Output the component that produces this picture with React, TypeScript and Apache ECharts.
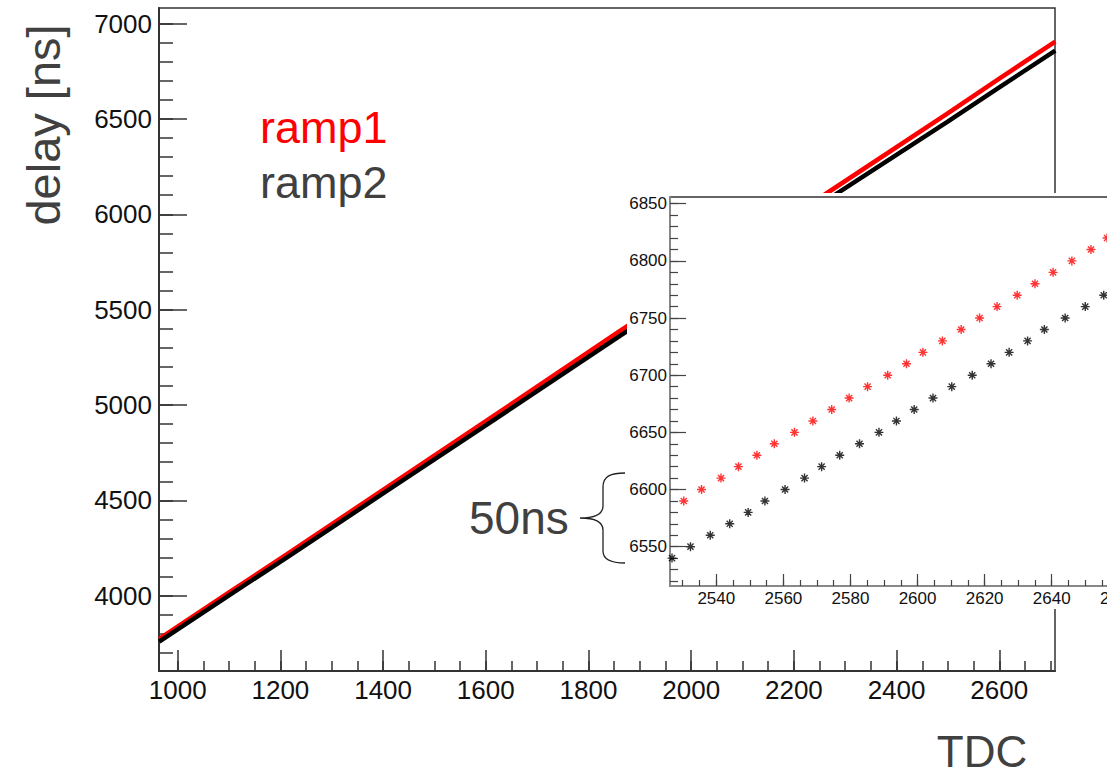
import React, { useEffect, useRef } from "react";
import * as echarts from "echarts";

// ---------- data ----------
const mainTdc = [964, 1100, 1213, 1400, 1600, 1862, 2000, 2258, 2498, 2600, 2709];
const ramp1Main = [3773, 4017, 4218, 4555, 4915, 5390, 5633, 6100, 6527, 6712, 6906];
const ramp2Main = [3759, 4002, 4201, 4536, 4893, 5364, 5604, 6064, 6483, 6666, 6858];

const ramp1InsetTdc = [2530.3, 2535.6, 2541.4, 2546.6, 2552.1, 2557.3, 2563.3, 2568.8, 2574.4, 2579.6, 2585.1, 2591.1, 2596.7, 2601.6, 2607.4, 2613.0, 2618.5, 2623.7, 2629.7, 2635.0, 2640.4, 2646.0, 2651.7, 2656.5];
const ramp1InsetDelay = [6590, 6600, 6610, 6620, 6630, 6640, 6650, 6660, 6670, 6680, 6690, 6700, 6710, 6720, 6730, 6740, 6750, 6760, 6770, 6780, 6790, 6800, 6810, 6820];
const ramp2InsetTdc = [2526.8, 2532.3, 2538.2, 2544.0, 2549.5, 2554.5, 2560.5, 2566.3, 2571.4, 2576.8, 2582.7, 2588.5, 2593.7, 2599.0, 2604.6, 2610.2, 2616.3, 2621.9, 2627.3, 2632.8, 2637.8, 2644.0, 2650.0, 2655.5];
const ramp2InsetDelay = [6540, 6550, 6560, 6570, 6580, 6590, 6600, 6610, 6620, 6630, 6640, 6650, 6660, 6670, 6680, 6690, 6700, 6710, 6720, 6730, 6740, 6750, 6760, 6770];

// ---------- ticks ----------
const mainXMajor = [1000, 1200, 1400, 1600, 1800, 2000, 2200, 2400, 2600];
const mainXMinor = [1000, 1050, 1100, 1150, 1200, 1250, 1300, 1350, 1400, 1450, 1500, 1550, 1600, 1650, 1700, 1750, 1800, 1850, 1900, 1950, 2000, 2050, 2100, 2150, 2200, 2250, 2300, 2350, 2400, 2450, 2500, 2550, 2600, 2650, 2700];
const mainYMajor = [4000, 4500, 5000, 5500, 6000, 6500, 7000];
const mainYMinor = [3700, 3800, 3900, 4000, 4100, 4200, 4300, 4400, 4500, 4600, 4700, 4800, 4900, 5000, 5100, 5200, 5300, 5400, 5500, 5600, 5700, 5800, 5900, 6000, 6100, 6200, 6300, 6400, 6500, 6600, 6700, 6800, 6900, 7000];
const insetXMajor = [2540, 2560, 2580, 2600, 2620, 2640, 2660, 2680];
const insetXLabels = [2540, 2560, 2580, 2600, 2620, 2640, 2660];
const insetXMinor = [2530, 2535, 2540, 2545, 2550, 2555, 2560, 2565, 2570, 2575, 2580, 2585, 2590, 2595, 2600, 2605, 2610, 2615, 2620, 2625, 2630, 2635, 2640, 2645, 2650, 2655, 2660, 2665, 2670, 2675, 2680];
const insetYMajor = [6550, 6600, 6650, 6700, 6750, 6800, 6850];
const insetYMinor = [6520, 6530, 6540, 6550, 6560, 6570, 6580, 6590, 6600, 6610, 6620, 6630, 6640, 6650, 6660, 6670, 6680, 6690, 6700, 6710, 6720, 6730, 6740, 6750, 6760, 6770, 6780, 6790, 6800, 6810, 6820, 6830, 6840, 6850];

const FONT = "'Liberation Sans', Arial, Helvetica, sans-serif";
const GREY_TEXT = "#404040";
const RED = "#ff0000";

echarts.graphic.registerShape(
  "brace",
  echarts.graphic.extendPath(
    "M625,473 C611,473 603,476 603,487 L603,506 C603,514 596,518 580,518 C596,518 603,522 603,530 L603,551 C603,560 611,563 625,563",
    {}
  )
);

const STAR = "path://M0,5L10,5M5,0L5,10M1.6,1.6L8.4,8.4M8.4,1.6L1.6,8.4";

function makeAxis(o: any) {
  const major = o.major;
  return {
    type: "value",
    gridIndex: o.grid,
    position: o.position,
    min: o.min,
    max: o.max,
    z: o.z,
    axisLine: major
      ? { show: true, onZero: false, lineStyle: { color: o.lineColor, width: o.lineWidth } }
      : { show: false, onZero: false },
    splitLine: { show: false },
    axisTick: {
      show: true,
      inside: true,
      length: o.tickLen,
      customValues: o.ticks,
      lineStyle: { color: o.tickColor, width: o.tickWidth },
    },
    axisLabel: major
      ? {
          show: true,
          customValues: o.labels,
          formatter: (v: number) => String(v),
          fontSize: o.fontSize,
          fontFamily: FONT,
          color: "#111",
          margin: o.margin,
          hideOverlap: false,
        }
      : { show: false },
  };
}

export default function App() {
  const ref = useRef<HTMLDivElement>(null);
  useEffect(() => {
    if (!ref.current) return;
    const chart = echarts.init(ref.current, undefined, { renderer: "svg" });
    const mainX = { min: 963.6, max: 2708.5 };
    const mainY = { min: 3605, max: 7082 };
    const insX = { min: 2526.2, max: 2684.2 };
    const insY = { min: 6515.6, max: 6855.9 };
    const option: any = {
      animation: false,
      backgroundColor: "#ffffff",
      textStyle: { fontFamily: FONT },
      grid: [
        { left: 159, top: 8, width: 896, height: 663, show: true, borderColor: "#333", borderWidth: 1.5, backgroundColor: "rgba(0,0,0,0)", z: 0, containLabel: false, outerBoundsMode: "none" },
        { left: 670, top: 197, width: 530, height: 389, show: true, borderColor: "#333", borderWidth: 1.5, backgroundColor: "#fff", z: 6, containLabel: false, outerBoundsMode: "none" },
      ],
      xAxis: [
        makeAxis({ major: true, grid: 0, position: "bottom", ...mainX, z: 1, lineColor: "#333", lineWidth: 2, tickLen: 21, ticks: mainXMajor, labels: mainXMajor, tickColor: "#333", tickWidth: 1.5, fontSize: 26, margin: 6 }),
        makeAxis({ major: false, grid: 0, position: "bottom", ...mainX, z: 1, tickLen: 10, ticks: mainXMinor, tickColor: "#333", tickWidth: 1.5 }),
        makeAxis({ major: true, grid: 1, position: "bottom", ...insX, z: 7, lineColor: "#888", lineWidth: 2, tickLen: 12, ticks: insetXMajor, labels: insetXLabels, tickColor: "#444", tickWidth: 1.2, fontSize: 17, margin: 4 }),
        makeAxis({ major: false, grid: 1, position: "bottom", ...insX, z: 7, tickLen: 6, ticks: insetXMinor, tickColor: "#444", tickWidth: 1.2 }),
      ],
      yAxis: [
        makeAxis({ major: true, grid: 0, position: "left", ...mainY, z: 1, lineColor: "#333", lineWidth: 2, tickLen: 28, ticks: mainYMajor, labels: mainYMajor, tickColor: "#333", tickWidth: 1.5, fontSize: 26, margin: 7 }),
        makeAxis({ major: false, grid: 0, position: "left", ...mainY, z: 1, tickLen: 14, ticks: mainYMinor, tickColor: "#333", tickWidth: 1.5 }),
        makeAxis({ major: true, grid: 1, position: "left", ...insY, z: 7, lineColor: "#888", lineWidth: 2, tickLen: 16, ticks: insetYMajor, labels: insetYMajor, tickColor: "#444", tickWidth: 1.2, fontSize: 17, margin: 3 }),
        makeAxis({ major: false, grid: 1, position: "left", ...insY, z: 7, tickLen: 8, ticks: insetYMinor, tickColor: "#444", tickWidth: 1.2 }),
      ],
      series: [
        {
          name: "ramp1",
          type: "line",
          xAxisIndex: 0,
          yAxisIndex: 0,
          data: mainTdc.map((x, i) => [x, ramp1Main[i]]),
          showSymbol: false,
          symbol: "none",
          lineStyle: { color: RED, width: 4.5 },
          z: 2,
          clip: true,
        },
        {
          name: "ramp2",
          type: "line",
          xAxisIndex: 0,
          yAxisIndex: 0,
          data: mainTdc.map((x, i) => [x, ramp2Main[i]]),
          showSymbol: false,
          symbol: "none",
          lineStyle: { color: "#000", width: 4.5 },
          z: 2,
          clip: true,
        },
        {
          name: "ramp1 zoom",
          type: "scatter",
          xAxisIndex: 2,
          yAxisIndex: 2,
          data: ramp1InsetTdc.map((x, i) => [x, ramp1InsetDelay[i]]),
          symbol: STAR,
          symbolSize: 9,
          itemStyle: { color: "rgba(0,0,0,0)", borderColor: RED, borderWidth: 1.4 },
          z: 8,
        },
        {
          name: "ramp2 zoom",
          type: "scatter",
          xAxisIndex: 2,
          yAxisIndex: 2,
          data: ramp2InsetTdc.map((x, i) => [x, ramp2InsetDelay[i]]),
          symbol: STAR,
          symbolSize: 9,
          itemStyle: { color: "rgba(0,0,0,0)", borderColor: "#000", borderWidth: 1.4 },
          z: 8,
        },
      ],
      graphic: [
        { type: "rect", z: 5, shape: { x: 627, y: 193, width: 520, height: 416 }, style: { fill: "#fff" } },
        { type: "brace", x: 0, y: 0, z: 10, style: { fill: "none", stroke: "#222", lineWidth: 1.3 } },
        { type: "text", z: 10, x: 43, y: 125, rotation: Math.PI / 2, style: { text: "delay [ns]", fill: GREY_TEXT, font: `47px ${FONT}`, textAlign: "center", textVerticalAlign: "middle" } },
        { type: "text", z: 10, x: 260, y: 127, style: { text: "ramp1", fill: RED, font: `45px ${FONT}`, textAlign: "left", textVerticalAlign: "middle" } },
        { type: "text", z: 10, x: 260, y: 182, style: { text: "ramp2", fill: GREY_TEXT, font: `45px ${FONT}`, textAlign: "left", textVerticalAlign: "middle" } },
        { type: "text", z: 10, x: 982, y: 773, style: { text: "TDC", fill: GREY_TEXT, font: `44px ${FONT}`, textAlign: "center", textVerticalAlign: "bottom" } },
        { type: "text", z: 10, x: 469, y: 518, style: { text: "50ns", fill: GREY_TEXT, font: `46px ${FONT}`, textAlign: "left", textVerticalAlign: "middle" } },
      ],
    };
    chart.setOption(option);
    return () => chart.dispose();
  }, []);
  return (
    <div
      ref={ref}
      style={{ position: "fixed", left: 0, top: 0, width: 1107, height: 778, background: "#fff" }}
    />
  );
}
